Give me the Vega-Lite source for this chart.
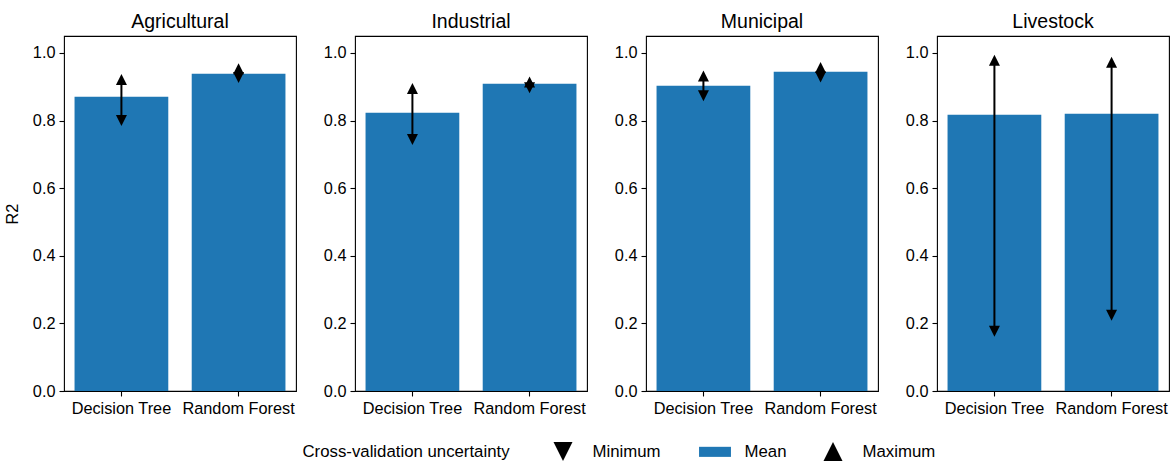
{
  "$schema": "https://vega.github.io/schema/vega-lite/v6.json",
  "padding": {"left": 3, "top": 10, "right": 2, "bottom": 2},
  "background": "white",
  "data": {"values": [
    {"sector": "Agricultural", "model": "Decision Tree", "stat": "Minimum", "value": 0.800},
    {"sector": "Agricultural", "model": "Decision Tree", "stat": "Mean", "value": 0.870},
    {"sector": "Agricultural", "model": "Decision Tree", "stat": "Maximum", "value": 0.921},
    {"sector": "Agricultural", "model": "Random Forest", "stat": "Minimum", "value": 0.927},
    {"sector": "Agricultural", "model": "Random Forest", "stat": "Mean", "value": 0.938},
    {"sector": "Agricultural", "model": "Random Forest", "stat": "Maximum", "value": 0.953},
    {"sector": "Industrial", "model": "Decision Tree", "stat": "Minimum", "value": 0.744},
    {"sector": "Industrial", "model": "Decision Tree", "stat": "Mean", "value": 0.823},
    {"sector": "Industrial", "model": "Decision Tree", "stat": "Maximum", "value": 0.895},
    {"sector": "Industrial", "model": "Random Forest", "stat": "Minimum", "value": 0.897},
    {"sector": "Industrial", "model": "Random Forest", "stat": "Mean", "value": 0.909},
    {"sector": "Industrial", "model": "Random Forest", "stat": "Maximum", "value": 0.914},
    {"sector": "Municipal", "model": "Decision Tree", "stat": "Minimum", "value": 0.873},
    {"sector": "Municipal", "model": "Decision Tree", "stat": "Mean", "value": 0.903},
    {"sector": "Municipal", "model": "Decision Tree", "stat": "Maximum", "value": 0.932},
    {"sector": "Municipal", "model": "Random Forest", "stat": "Minimum", "value": 0.929},
    {"sector": "Municipal", "model": "Random Forest", "stat": "Mean", "value": 0.944},
    {"sector": "Municipal", "model": "Random Forest", "stat": "Maximum", "value": 0.957},
    {"sector": "Livestock", "model": "Decision Tree", "stat": "Minimum", "value": 0.177},
    {"sector": "Livestock", "model": "Decision Tree", "stat": "Mean", "value": 0.817},
    {"sector": "Livestock", "model": "Decision Tree", "stat": "Maximum", "value": 0.978},
    {"sector": "Livestock", "model": "Random Forest", "stat": "Minimum", "value": 0.224},
    {"sector": "Livestock", "model": "Random Forest", "stat": "Mean", "value": 0.820},
    {"sector": "Livestock", "model": "Random Forest", "stat": "Maximum", "value": 0.972}
  ]},
  "hconcat": [
    {
      "title": "Agricultural",
      "width": 232, "height": 355,
      "transform": [{"filter": "datum.sector === 'Agricultural'"}],
      "encoding": {"x": {"field": "model", "type": "nominal", "sort": ["Decision Tree", "Random Forest"], "scale": {"paddingInner": 0.2, "paddingOuter": 0.09}, "axis": {"title": null, "labelAngle": 0}}},
      "layer": [
        {"transform": [{"filter": "datum.stat === 'Mean'"}], "mark": {"type": "bar", "color": "#1f77b4"},
         "encoding": {"y": {"field": "value", "type": "quantitative", "scale": {"domain": [0, 1.05], "nice": false}, "axis": {"title": "R2", "values": [0, 0.2, 0.4, 0.6, 0.8, 1.0], "format": ".1f"}}}},
        {"mark": {"type": "rule", "color": "black", "strokeWidth": 2},
         "encoding": {"y": {"aggregate": "min", "field": "value", "type": "quantitative", "scale": {"domain": [0, 1.05], "nice": false}, "axis": {"title": "R2", "values": [0, 0.2, 0.4, 0.6, 0.8, 1.0], "format": ".1f"}}, "y2": {"aggregate": "max", "field": "value"}}},
        {"transform": [{"filter": "datum.stat !== 'Mean'"}], "mark": {"type": "point", "filled": true, "opacity": 1, "size": 121},
         "encoding": {"y": {"field": "value", "type": "quantitative", "scale": {"domain": [0, 1.05], "nice": false}, "axis": {"title": "R2", "values": [0, 0.2, 0.4, 0.6, 0.8, 1.0], "format": ".1f"}},
                      "color": {"field": "stat", "type": "nominal", "scale": {"domain": ["Minimum", "Mean", "Maximum"], "range": ["#000000", "#1f77b4", "#000000"]}, "title": "Cross-validation uncertainty"},
                      "shape": {"field": "stat", "type": "nominal", "scale": {"domain": ["Minimum", "Mean", "Maximum"], "range": ["M0,1L1,-1L-1,-1Z", "M-1.68,-0.53L1.68,-0.53L1.68,0.53L-1.68,0.53Z", "M0,-1L1,1L-1,1Z"]}, "title": "Cross-validation uncertainty"}}}
      ]
    },
    {
      "title": "Industrial",
      "width": 232, "height": 355,
      "transform": [{"filter": "datum.sector === 'Industrial'"}],
      "encoding": {"x": {"field": "model", "type": "nominal", "sort": ["Decision Tree", "Random Forest"], "scale": {"paddingInner": 0.2, "paddingOuter": 0.09}, "axis": {"title": null, "labelAngle": 0}}},
      "layer": [
        {"transform": [{"filter": "datum.stat === 'Mean'"}], "mark": {"type": "bar", "color": "#1f77b4"},
         "encoding": {"y": {"field": "value", "type": "quantitative", "scale": {"domain": [0, 1.05], "nice": false}, "axis": {"title": null, "values": [0, 0.2, 0.4, 0.6, 0.8, 1.0], "format": ".1f"}}}},
        {"mark": {"type": "rule", "color": "black", "strokeWidth": 2},
         "encoding": {"y": {"aggregate": "min", "field": "value", "type": "quantitative", "scale": {"domain": [0, 1.05], "nice": false}, "axis": {"title": null, "values": [0, 0.2, 0.4, 0.6, 0.8, 1.0], "format": ".1f"}}, "y2": {"aggregate": "max", "field": "value"}}},
        {"transform": [{"filter": "datum.stat !== 'Mean'"}], "mark": {"type": "point", "filled": true, "opacity": 1, "size": 121},
         "encoding": {"y": {"field": "value", "type": "quantitative", "scale": {"domain": [0, 1.05], "nice": false}, "axis": {"title": null, "values": [0, 0.2, 0.4, 0.6, 0.8, 1.0], "format": ".1f"}},
                      "color": {"field": "stat", "type": "nominal", "scale": {"domain": ["Minimum", "Mean", "Maximum"], "range": ["#000000", "#1f77b4", "#000000"]}, "title": "Cross-validation uncertainty"},
                      "shape": {"field": "stat", "type": "nominal", "scale": {"domain": ["Minimum", "Mean", "Maximum"], "range": ["M0,1L1,-1L-1,-1Z", "M-1.68,-0.53L1.68,-0.53L1.68,0.53L-1.68,0.53Z", "M0,-1L1,1L-1,1Z"]}, "title": "Cross-validation uncertainty"}}}
      ]
    },
    {
      "title": "Municipal",
      "width": 232, "height": 355,
      "transform": [{"filter": "datum.sector === 'Municipal'"}],
      "encoding": {"x": {"field": "model", "type": "nominal", "sort": ["Decision Tree", "Random Forest"], "scale": {"paddingInner": 0.2, "paddingOuter": 0.09}, "axis": {"title": null, "labelAngle": 0}}},
      "layer": [
        {"transform": [{"filter": "datum.stat === 'Mean'"}], "mark": {"type": "bar", "color": "#1f77b4"},
         "encoding": {"y": {"field": "value", "type": "quantitative", "scale": {"domain": [0, 1.05], "nice": false}, "axis": {"title": null, "values": [0, 0.2, 0.4, 0.6, 0.8, 1.0], "format": ".1f"}}}},
        {"mark": {"type": "rule", "color": "black", "strokeWidth": 2},
         "encoding": {"y": {"aggregate": "min", "field": "value", "type": "quantitative", "scale": {"domain": [0, 1.05], "nice": false}, "axis": {"title": null, "values": [0, 0.2, 0.4, 0.6, 0.8, 1.0], "format": ".1f"}}, "y2": {"aggregate": "max", "field": "value"}}},
        {"transform": [{"filter": "datum.stat !== 'Mean'"}], "mark": {"type": "point", "filled": true, "opacity": 1, "size": 121},
         "encoding": {"y": {"field": "value", "type": "quantitative", "scale": {"domain": [0, 1.05], "nice": false}, "axis": {"title": null, "values": [0, 0.2, 0.4, 0.6, 0.8, 1.0], "format": ".1f"}},
                      "color": {"field": "stat", "type": "nominal", "scale": {"domain": ["Minimum", "Mean", "Maximum"], "range": ["#000000", "#1f77b4", "#000000"]}, "title": "Cross-validation uncertainty"},
                      "shape": {"field": "stat", "type": "nominal", "scale": {"domain": ["Minimum", "Mean", "Maximum"], "range": ["M0,1L1,-1L-1,-1Z", "M-1.68,-0.53L1.68,-0.53L1.68,0.53L-1.68,0.53Z", "M0,-1L1,1L-1,1Z"]}, "title": "Cross-validation uncertainty"}}}
      ]
    },
    {
      "title": "Livestock",
      "width": 232, "height": 355,
      "transform": [{"filter": "datum.sector === 'Livestock'"}],
      "encoding": {"x": {"field": "model", "type": "nominal", "sort": ["Decision Tree", "Random Forest"], "scale": {"paddingInner": 0.2, "paddingOuter": 0.09}, "axis": {"title": null, "labelAngle": 0}}},
      "layer": [
        {"transform": [{"filter": "datum.stat === 'Mean'"}], "mark": {"type": "bar", "color": "#1f77b4"},
         "encoding": {"y": {"field": "value", "type": "quantitative", "scale": {"domain": [0, 1.05], "nice": false}, "axis": {"title": null, "values": [0, 0.2, 0.4, 0.6, 0.8, 1.0], "format": ".1f"}}}},
        {"mark": {"type": "rule", "color": "black", "strokeWidth": 2},
         "encoding": {"y": {"aggregate": "min", "field": "value", "type": "quantitative", "scale": {"domain": [0, 1.05], "nice": false}, "axis": {"title": null, "values": [0, 0.2, 0.4, 0.6, 0.8, 1.0], "format": ".1f"}}, "y2": {"aggregate": "max", "field": "value"}}},
        {"transform": [{"filter": "datum.stat !== 'Mean'"}], "mark": {"type": "point", "filled": true, "opacity": 1, "size": 121},
         "encoding": {"y": {"field": "value", "type": "quantitative", "scale": {"domain": [0, 1.05], "nice": false}, "axis": {"title": null, "values": [0, 0.2, 0.4, 0.6, 0.8, 1.0], "format": ".1f"}},
                      "color": {"field": "stat", "type": "nominal", "scale": {"domain": ["Minimum", "Mean", "Maximum"], "range": ["#000000", "#1f77b4", "#000000"]}, "title": "Cross-validation uncertainty"},
                      "shape": {"field": "stat", "type": "nominal", "scale": {"domain": ["Minimum", "Mean", "Maximum"], "range": ["M0,1L1,-1L-1,-1Z", "M-1.68,-0.53L1.68,-0.53L1.68,0.53L-1.68,0.53Z", "M0,-1L1,1L-1,1Z"]}, "title": "Cross-validation uncertainty"}}}
      ]
    }
  ],
  "config": {
    "font": "Liberation Sans",
    "view": {"stroke": "#000000", "strokeWidth": 1.1},
    "concat": {"spacing": 25},
    "axis": {"labelFont": "Liberation Sans", "labelFontSize": 16.3, "labelColor": "#000000", "tickColor": "#000000", "tickSize": 5, "tickWidth": 1.1, "labelPadding": 4, "domain": false, "grid": false, "titleFont": "Liberation Sans", "titleFontSize": 16.3, "titleFontWeight": "normal", "titleColor": "#000000", "titlePadding": 12},
    "title": {"font": "Liberation Sans", "fontSize": 19.5, "fontWeight": "normal", "color": "#000000", "anchor": "middle", "offset": 4},
    "legend": {"orient": "none", "direction": "horizontal", "legendX": 238.5, "legendY": 406, "titleOrient": "left", "titleBaseline": "middle", "titleLimit": 500, "titleFont": "Liberation Sans", "titleFontSize": 16.8, "titleFontWeight": "normal", "titleColor": "#000000", "titlePadding": 43, "labelFont": "Liberation Sans", "labelFontSize": 16.8, "labelColor": "#000000", "labelOffset": 20, "symbolSize": 361, "symbolStrokeWidth": 0, "columnPadding": 37}
  }
}
